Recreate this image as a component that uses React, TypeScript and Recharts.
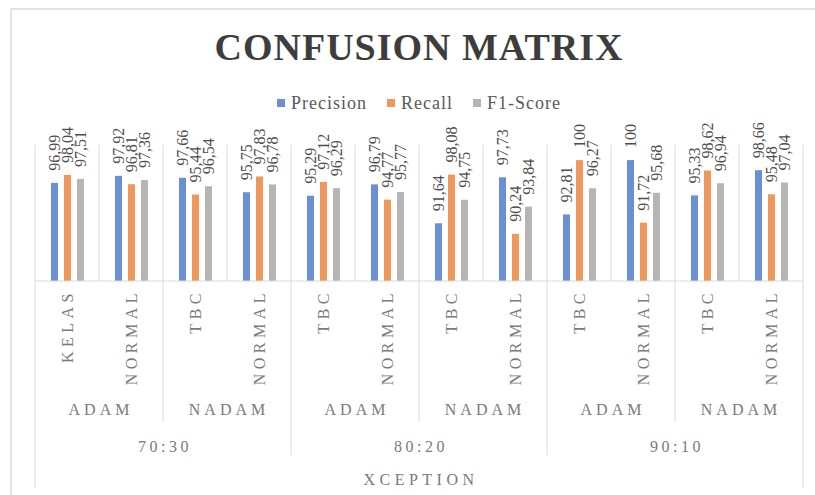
import { BarChart, Bar, XAxis, YAxis, CartesianGrid, LabelList } from "recharts";

const categories = ["KELAS", "NORMAL", "TBC", "NORMAL", "TBC", "NORMAL", "TBC", "NORMAL", "TBC", "NORMAL", "TBC", "NORMAL"];
const optimizers = ["ADAM", "NADAM"];
const splits = ["70:30", "80:20", "90:10"];
const modelName = "XCEPTION";

const precision = [96.99, 97.92, 97.66, 95.75, 95.29, 96.79, 91.64, 97.73, 92.81, 100, 95.33, 98.66];
const recall = [98.04, 96.81, 95.44, 97.83, 97.12, 94.77, 98.08, 90.24, 100, 91.72, 98.62, 95.48];
const f1Score = [97.51, 97.36, 96.54, 96.78, 96.29, 95.77, 94.75, 93.84, 96.27, 95.68, 96.94, 97.04];

const series = [
  { key: "precision", name: "Precision", color: "#6a8fd2" },
  { key: "recall", name: "Recall", color: "#f0975b" },
  { key: "f1", name: "F1-Score", color: "#b5b5b5" },
];

const data = categories.map((name, i) => ({
  name,
  precision: precision[i],
  recall: recall[i],
  f1: f1Score[i],
}));

const W = 815;
const H = 495;
const MARGIN = { top: 145, right: 12, bottom: 0, left: 35 };
const PLOT_W = W - MARGIN.left - MARGIN.right;
const AXIS_H = 214;
const FONT = "'Liberation Serif', 'Times New Roman', serif";
const GRID = "#d9d9d9";
const AXIS_TEXT = "#7a7a7a";

const fmt = (v: number) => String(v).replace(".", ",");

// eslint-disable-next-line @typescript-eslint/no-explicit-any
function ValueLabel(props: any) {
  const x = Number(props.x);
  const y = Number(props.y);
  const w = Number(props.width);
  return (
    <text
      transform={`translate(${x + w / 2}, ${y - 12}) rotate(-90)`}
      textAnchor="start"
      dominantBaseline="central"
      fontSize={16}
      fontFamily={FONT}
      fill="#4d4d4d"
    >
      {fmt(props.value)}
    </text>
  );
}

// eslint-disable-next-line @typescript-eslint/no-explicit-any
function AxisTick(props: any) {
  const { x, y, payload } = props;
  const i: number = props.index ?? payload.index;
  const band = PLOT_W / categories.length;
  const left = x - band / 2;
  const last = categories.length - 1;
  const lines = [];
  if (i % 2 === 0) {
    const len = i === 0 ? 207 : i % 4 === 0 ? 174 : 141;
    lines.push(<line key="l" x1={left} x2={left} y1={y} y2={y + len} stroke={GRID} />);
  }
  if (i === last) {
    lines.push(<line key="r" x1={x + band / 2} x2={x + band / 2} y1={y} y2={y + 207} stroke={GRID} />);
  }
  return (
    <g fontFamily={FONT} fill={AXIS_TEXT}>
      {lines}
      <text
        transform={`translate(${x}, ${y + 8}) rotate(-90)`}
        textAnchor="end"
        dominantBaseline="central"
        fontSize={16}
        letterSpacing={4.5}
      >
        {payload.value}
      </text>
      {i % 2 === 0 && (
        <text x={left + band + 2} y={y + 134} textAnchor="middle" fontSize={16} letterSpacing={4}>
          {optimizers[(i / 2) % 2]}
        </text>
      )}
      {i % 4 === 0 && (
        <text x={left + band * 2 + 2} y={y + 171} textAnchor="middle" fontSize={16} letterSpacing={3.5}>
          {splits[i / 4]}
        </text>
      )}
      {i === 0 && (
        <text x={left + PLOT_W / 2 + 2} y={y + 204} textAnchor="middle" fontSize={16} letterSpacing={4.5}>
          {modelName}
        </text>
      )}
    </g>
  );
}

export default function App() {
  return (
    <div style={{ position: "absolute", left: 0, top: 0, width: W, height: H, background: "#fff", overflow: "hidden" }}>
      <div style={{ position: "absolute", left: 10, top: 8, right: 0, height: 2, background: "#e3e3e3" }} />
      <div style={{ position: "absolute", left: 10, top: 8, bottom: 0, width: 2, background: "#e3e3e3" }} />
      <svg width={W} height={120} style={{ position: "absolute", left: 0, top: 0 }}>
        <text
          x={419}
          y={60}
          textAnchor="middle"
          fontFamily={FONT}
          fontWeight="bold"
          fontSize={38}
          letterSpacing={1}
          fill="#3d3d3d"
        >
          CONFUSION MATRIX
        </text>
      </svg>
      <div
        style={{
          position: "absolute",
          top: 92,
          left: MARGIN.left,
          width: PLOT_W,
          display: "flex",
          justifyContent: "center",
          gap: 20,
          fontFamily: FONT,
          fontSize: 18,
          letterSpacing: 1,
          lineHeight: "22px",
          color: "#595959",
        }}
      >
        {series.map((s) => (
          <span key={s.key} style={{ display: "flex", alignItems: "center" }}>
            <span style={{ display: "inline-block", width: 8, height: 8, background: s.color, marginRight: 6 }} />
            {s.name}
          </span>
        ))}
      </div>
      <div style={{ position: "absolute", left: 0, top: 0 }}>
        <BarChart width={W} height={H} data={data} margin={MARGIN} barSize={7} barGap={6}>
          <CartesianGrid
            horizontal={false}
            stroke={GRID}
            // eslint-disable-next-line @typescript-eslint/no-explicit-any
            verticalCoordinatesGenerator={({ offset }: any) =>
              categories.concat([""]).map((_, i) => offset.left + (i * offset.width) / categories.length)
            }
          />
          <XAxis
            dataKey="name"
            height={AXIS_H}
            interval={0}
            tickLine={false}
            tickSize={0}
            tickMargin={0}
            axisLine={{ stroke: GRID }}
            tick={<AxisTick />}
          />
          <YAxis hide domain={[84, 102]} />
          {series.map((s) => (
            <Bar key={s.key} dataKey={s.key} name={s.name} fill={s.color} isAnimationActive={false}>
              <LabelList dataKey={s.key} content={<ValueLabel />} />
            </Bar>
          ))}
        </BarChart>
      </div>
    </div>
  );
}
